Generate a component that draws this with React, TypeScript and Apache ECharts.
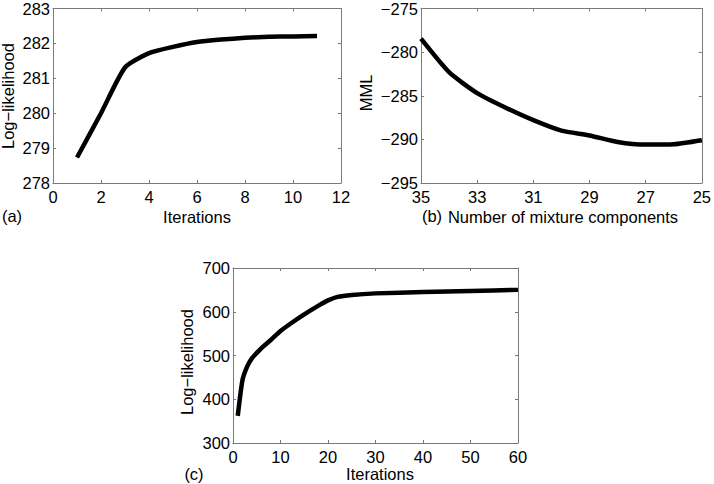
import React, { useEffect, useRef } from "react";
import * as echarts from "echarts";

const aX = [1, 2, 3, 4, 5, 6, 7, 8, 9, 10, 11];
const aY = [278.73, 280.0, 281.31, 281.72, 281.9, 282.04, 282.11, 282.16, 282.19, 282.2, 282.21];

const bX = [35, 34, 33, 32, 31, 30, 29, 28, 27, 26, 25];
const bY = [-278.46, -282.3, -284.7, -286.35, -287.8, -289.0, -289.55, -290.3, -290.6, -290.56, -290.1];

const cX = [1, 2, 3, 4, 5, 6, 8, 10, 12, 15, 18, 20, 22, 25, 30, 40, 50, 60];
const cY = [362, 444, 475, 494, 506, 517, 536, 556, 572, 594, 614, 626, 634, 638.5, 642, 645, 647.6, 650];

const FONT = "Liberation Sans, Arial, Helvetica, sans-serif";
const BORDER = "#7a7a7a";
const FS = 16.5;

const grids = [
  { left: 53, top: 5, width: 288, height: 178 },
  { left: 421, top: 5, width: 284, height: 178 },
  { left: 233, top: 268, width: 285, height: 175 },
];

const xCfg = [
  { min: 0, max: 12, interval: 2, inverse: false },
  { min: 25, max: 35, interval: 2, inverse: true },
  { min: 0, max: 60, interval: 10, inverse: false },
];
const yCfg = [
  { min: 278, max: 283, interval: 1 },
  { min: -295, max: -275, interval: 5 },
  { min: 300, max: 700, interval: 100 },
];

const fmt = (v: number) => String(v).replace("-", "\u2212");

export default function App() {
  const ref = useRef<HTMLDivElement>(null);
  useEffect(() => {
    if (!ref.current) return;
    const chart = echarts.init(ref.current, undefined, { renderer: "svg" });
    const xAxis: any[] = [];
    const yAxis: any[] = [];
    grids.forEach((_, i) => {
      const xc = xCfg[i];
      const yc = yCfg[i];
      const tick = { show: true, inside: true, length: 3, lineStyle: { color: BORDER } };
      xAxis.push({
        type: "value", gridIndex: i, position: "bottom", ...xc,
        axisLine: { show: true, onZero: false, lineStyle: { color: BORDER } },
        axisTick: tick, splitLine: { show: false },
        axisLabel: { color: "#000", fontSize: FS, fontFamily: FONT, margin: 5, formatter: fmt },
      });
      xAxis.push({
        type: "value", gridIndex: i, position: "top", ...xc,
        axisLine: { show: true, onZero: false, lineStyle: { color: BORDER } },
        axisTick: tick, splitLine: { show: false }, axisLabel: { show: false },
      });
      yAxis.push({
        type: "value", gridIndex: i, position: "left", ...yc,
        axisLine: { show: true, onZero: false, lineStyle: { color: BORDER } },
        axisTick: tick, splitLine: { show: false },
        axisLabel: { color: "#000", fontSize: FS, fontFamily: FONT, margin: 3, formatter: fmt },
      });
      yAxis.push({
        type: "value", gridIndex: i, position: "right", ...yc,
        axisLine: { show: true, onZero: false, lineStyle: { color: BORDER } },
        axisTick: tick, splitLine: { show: false }, axisLabel: { show: false },
      });
    });
    const mk = (xs: number[], ys: number[], i: number) => ({
      type: "line",
      xAxisIndex: i * 2,
      yAxisIndex: i * 2,
      data: xs.map((x, k) => [x, ys[k]]),
      showSymbol: false,
      symbol: "none",
      smooth: 0.2,
      lineStyle: { color: "#000", width: 4.5 },
    });
    const txt = (t: string, x: number, y: number, rot = 0) => ({
      type: "text",
      x, y, rotation: rot,
      style: { text: t, fill: "#000", font: `${FS}px ${FONT}`, textAlign: "center", textVerticalAlign: "middle" },
    });
    chart.setOption({
      animation: false,
      grid: grids.map((g) => ({ ...g, show: false, containLabel: false })),
      xAxis,
      yAxis,
      series: [mk(aX, aY, 0), mk(bX, bY, 1), mk(cX, cY, 2)],
      graphic: [
        txt("(a)", 12, 216),
        txt("Iterations", 197, 217),
        txt("Log\u2212likelihood", 8, 96, Math.PI / 2),
        txt("(b)", 432, 216),
        txt("Number of mixture components", 563, 217),
        txt("MML", 366, 93, Math.PI / 2),
        txt("(c)", 194, 474),
        txt("Iterations", 380, 474),
        txt("Log\u2212likelihood", 187, 362, Math.PI / 2),
      ],
    });
    return () => chart.dispose();
  }, []);
  return (
    <div
      ref={ref}
      style={{ position: "fixed", left: 0, top: 0, width: 714, height: 484, background: "#fff" }}
    />
  );
}
